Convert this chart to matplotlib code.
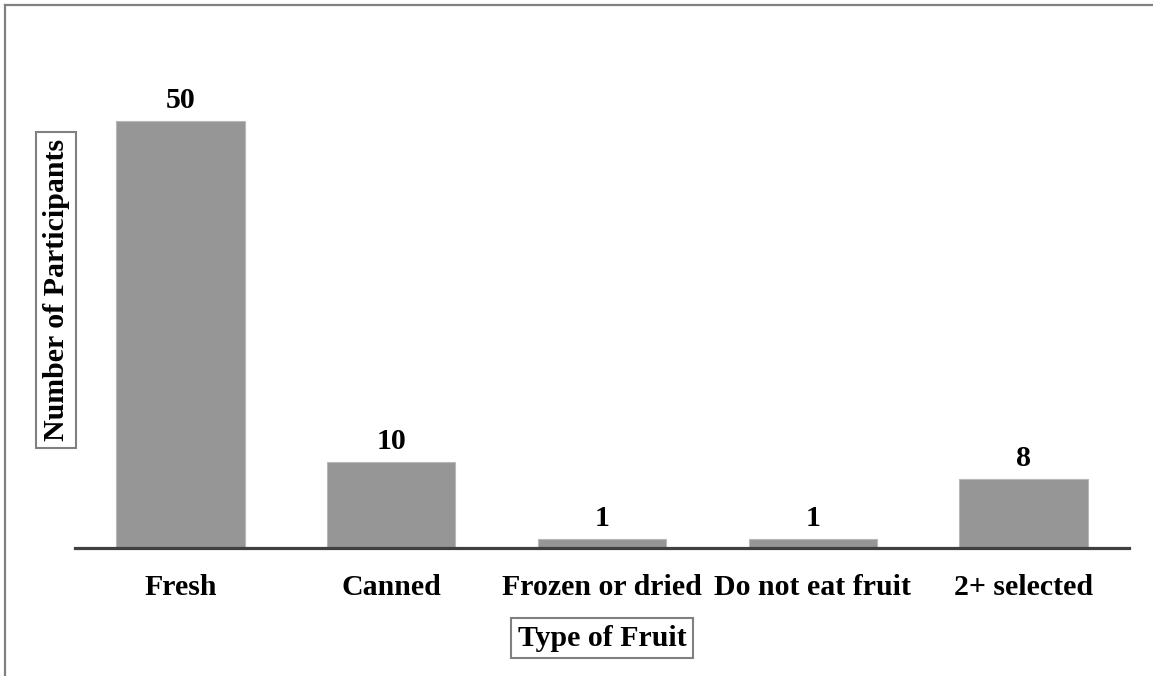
import matplotlib
matplotlib.use("Agg")
import matplotlib.pyplot as plt
from matplotlib.lines import Line2D

categories = ["Fresh", "Canned", "Frozen or dried", "Do not eat fruit", "2+ selected"]
participants = [50, 10, 1, 1, 8]

plt.rcParams["font.family"] = ["Liberation Serif", "DejaVu Serif"]
plt.rcParams["font.weight"] = "bold"

W, H = 1153, 676
fig = plt.figure(figsize=(W / 100, H / 100), dpi=100)
ax = fig.add_axes([75 / W, 128.5 / H, (1129 - 75) / W, (547.5 - 60) / H])

x = range(len(categories))
bars = ax.bar(x, participants, width=0.61, color="#969696",
              edgecolor="#b8b8b8", linewidth=0.8, zorder=2)

for rect, v in zip(bars, participants):
    ax.annotate(str(v), (rect.get_x() + rect.get_width() / 2, rect.get_height()),
                xytext=(0, 5), textcoords="offset points",
                ha="center", va="bottom", fontsize=21.5, fontweight="bold")

ax.set_xlim(-0.5, len(categories) - 0.5)
ax.set_ylim(0, 57.1)
ax.set_xticks(list(x))
ax.set_xticklabels(categories, fontsize=21.5, fontweight="bold")
ax.tick_params(axis="x", length=0, pad=19)
ax.set_yticks([])
for side in ("top", "left", "right"):
    ax.spines[side].set_visible(False)
ax.spines["bottom"].set_color("#404040")
ax.spines["bottom"].set_linewidth(2.3)
ax.spines["bottom"].set_zorder(3)

box = dict(boxstyle="square,pad=0.22", facecolor="white", edgecolor="#808080", linewidth=1.5)
fig.text(602 / W, 1 - 638 / H, "Type of Fruit", ha="center", va="center",
         fontsize=21.5, fontweight="bold", bbox=box)
fig.text(56 / W, 1 - 290 / H, "Number of Participants", ha="center", va="center",
         rotation=90, fontsize=21.5, fontweight="bold", bbox=box)

# outer frame along the top and left edges
fig.add_artist(Line2D([4.5 / W, 4.5 / W], [0, 1 - 5 / H], transform=fig.transFigure,
                      color="#808080", linewidth=1.6))
fig.add_artist(Line2D([4.5 / W, 1], [1 - 5 / H, 1 - 5 / H], transform=fig.transFigure,
                      color="#808080", linewidth=1.6))

fig.savefig("out.png", dpi=100, facecolor="white")
